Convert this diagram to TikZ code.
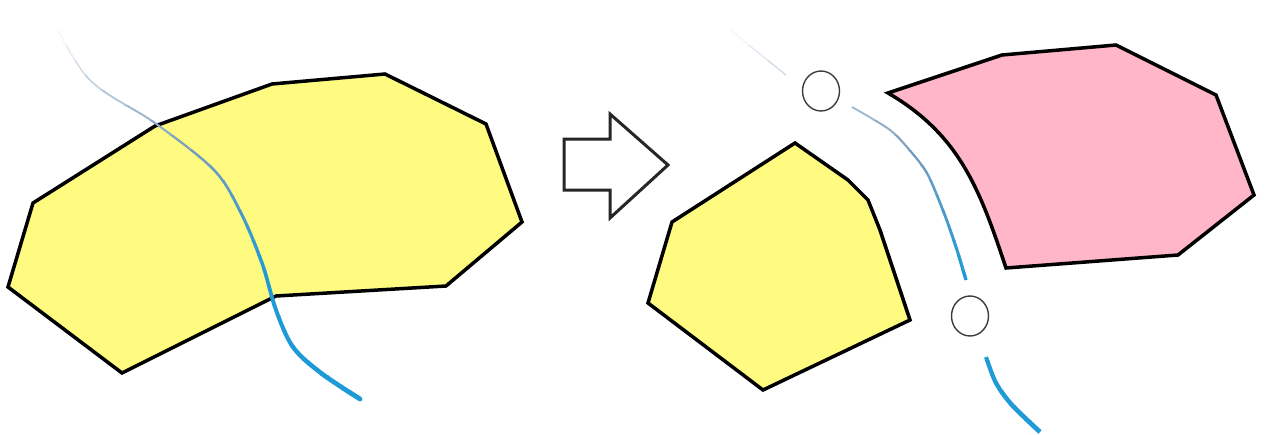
\documentclass[tikz,border=0pt]{standalone}
\usetikzlibrary{calc}
\definecolor{landyellow}{RGB}{255,251,128}
\definecolor{landpink}{RGB}{255,182,200}
\definecolor{riverblue}{RGB}{30,155,215}
\definecolor{riversteel}{RGB}{120,155,190}
\definecolor{ringgray}{RGB}{60,60,60}
\tikzset{
  land/.style={draw=black, line width=3.5pt, line join=miter},
  bigarrow/.style={draw=black!85, line width=3pt, fill=white, line join=miter},
  gapring/.style={draw=ringgray, line width=1.4pt, fill=white},
}
% colour of the river at band i (height y = 15 i + 7)
\newcommand{\setrivercolor}[1]{%
  \pgfmathsetmacro\rt{max(0,min(1,(#1*15+7-25)/245))}%
  \pgfmathtruncatemacro\rlow{\rt<0.5 ? 1 : 0}%
  \ifnum\rlow=1
    \pgfmathtruncatemacro\rp{\rt*200}%
    \colorlet{rivercur}{riversteel!\rp!white}%
  \else
    \pgfmathtruncatemacro\rp{(\rt-0.5)*200}%
    \colorlet{rivercur}{riverblue!\rp!riversteel}%
  \fi}
\begin{document}
\begin{tikzpicture}[x=1pt,y=-1pt]
\useasboundingbox[fill=white] (0,0) rectangle (1266,434);

% left land
\path[land, fill=landyellow] (8,287) -- (33,203) -- (155,126) -- (272,84) -- (385,74) -- (486,124) -- (522,222) -- (446,286) -- (276,296) -- (122,373) -- cycle;

% left river (fading from white at top to blue at bottom)
\def\leftriver{plot[smooth, tension=0.55] coordinates {(45,5) (88,78) (155,123) (214,170) (241,213) (262,263) (276,310) (293,347) (321,373) (360,399)}}
\foreach \i in {0,...,29} {
  \pgfmathsetmacro\ya{\i*15}
  \pgfmathsetmacro\yb{\i*15+15}
  \setrivercolor{\i}
  \pgfmathsetmacro\w{0.8+4.4*(\i*15+7)/434}
  \begin{scope}
    \clip (0,\ya) rectangle (1266,\yb);
    \draw[line width=\w pt, color=rivercur, line cap=round] \leftriver;
  \end{scope}
}

% arrow
\path[bigarrow] (564,139) -- (610,139) -- (610,114) -- (668,165) -- (610,218) -- (610,190) -- (564,190) -- cycle;

% right lands
\path[land, fill=landyellow] (795,143) -- (848,180) -- (868,200) -- (880,230) -- (910,320) -- (763,390) -- (648,303) -- (672,222) -- cycle;
\path[land, fill=landpink] (888,93) -- (1002,55) -- (1116,45) -- (1216,95) -- (1254,195) -- (1178,255) -- (1006,268) .. controls (980,190) and (960,135) .. (888,93) -- cycle;

% right river in three pieces
\def\riverA{plot[smooth] coordinates {(700,5) (745,42) (786,75)}}
\def\riverB{plot[smooth] coordinates {(852,107) (890,130) (912,153) (928,175) (944,213) (956,247) (966,280)}}
\def\riverC{plot[smooth] coordinates {(986,357) (996,383) (1012,405) (1040,432)}}
\foreach \i in {0,...,29} {
  \pgfmathsetmacro\ya{\i*15}
  \pgfmathsetmacro\yb{\i*15+15}
  \setrivercolor{\i}
  \pgfmathsetmacro\w{0.8+4.0*(\i*15+7)/434}
  \begin{scope}
    \clip (0,\ya) rectangle (1266,\yb);
    \draw[line width=\w pt, color=rivercur] \riverA;
    \draw[line width=\w pt, color=rivercur] \riverB;
    \draw[line width=\w pt, color=rivercur] \riverC;
  \end{scope}
}

% gaps (rings)
\path[gapring] (821,91) ellipse [x radius=18.5pt, y radius=20pt];
\path[gapring] (970,316) ellipse [x radius=18.5pt, y radius=20pt];
\end{tikzpicture}
\end{document}
